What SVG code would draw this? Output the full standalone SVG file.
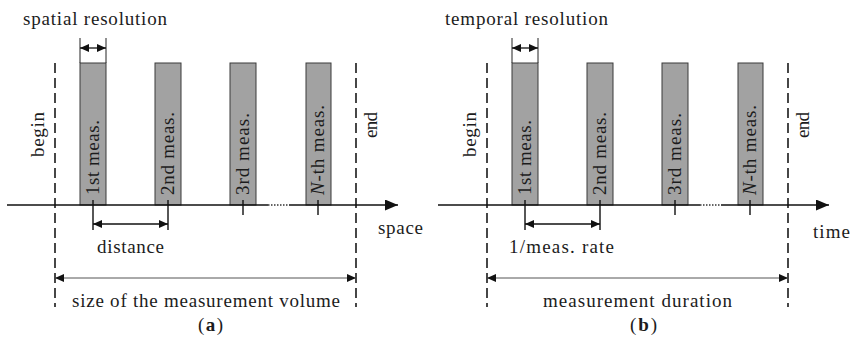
<svg xmlns="http://www.w3.org/2000/svg" width="851" height="343" viewBox="0 0 851 343">
<style>
text{font-family:"Liberation Serif","Times New Roman",serif;font-size:19px;fill:#1c1c1c}
.bar{fill:#a2a2a2;stroke:#3a3a3a;stroke-width:1}
.axis{stroke:#111;stroke-width:1.5;fill:none}
.dots{stroke:#333;stroke-width:1.3;stroke-dasharray:1.5 1.5;fill:none}
.dash{stroke:#1a1a1a;stroke-width:1.6;stroke-dasharray:10 5;fill:none}
.tick{stroke:#111;stroke-width:1.4;fill:none}
.ext{stroke:#222;stroke-width:1;fill:none}
.dim{stroke:#111;stroke-width:1.3;fill:none;marker-start:url(#ah);marker-end:url(#ah)}
.dimg{stroke:#555;stroke-width:1;fill:none;marker-start:url(#ah);marker-end:url(#ah)}
</style>
<defs>
<marker id="ah" markerUnits="userSpaceOnUse" markerWidth="10" markerHeight="10" refX="9" refY="4" orient="auto-start-reverse"><path d="M0,0 L9,4 L0,8 z" fill="#111"/></marker>
<marker id="ax" markerUnits="userSpaceOnUse" markerWidth="14" markerHeight="12" refX="13" refY="5.5" orient="auto"><path d="M0,0 L13,5.5 L0,11 z" fill="#111"/></marker>
</defs>

<!-- Panel (a) -->
<g id="panel-a">
  <text x="23" y="25" textLength="144" lengthAdjust="spacing">spatial resolution</text>
  <g id="a-bar1"><rect class="bar" x="80" y="63" width="26" height="142"/><text transform="translate(99,195) rotate(-90)" textLength="75" lengthAdjust="spacing">1st meas.</text></g>
  <g id="a-bar2"><rect class="bar" x="155" y="63" width="26" height="142"/><text transform="translate(174,195) rotate(-90)" textLength="83" lengthAdjust="spacing">2nd meas.</text></g>
  <g id="a-bar3"><rect class="bar" x="230" y="63" width="26" height="142"/><text transform="translate(249,195) rotate(-90)" textLength="82" lengthAdjust="spacing">3rd meas.</text></g>
  <g id="a-bar4"><rect class="bar" x="306" y="63" width="25" height="142"/><text transform="translate(324,195) rotate(-90)" textLength="90" lengthAdjust="spacing"><tspan font-style="italic">N</tspan>-th meas.</text></g>
  <g id="a-begin"><text transform="translate(44,157) rotate(-90)" textLength="45" lengthAdjust="spacing">begin</text></g>
  <g id="a-end"><text transform="translate(377,138) rotate(-90)" textLength="26" lengthAdjust="spacing">end</text></g>
  <g id="a-space"><text x="378" y="234" textLength="45" lengthAdjust="spacing">space</text></g>
  <g id="a-distance"><text x="97" y="253" textLength="67" lengthAdjust="spacing">distance</text></g>
  <g id="a-size"><text x="72" y="307" textLength="268" lengthAdjust="spacing">size of the measurement volume</text></g>
  <text x="198" y="331" textLength="25" lengthAdjust="spacing">(<tspan font-weight="bold">a</tspan>)</text>
  <g id="a-connectors">
    <line class="dash" x1="55" y1="63" x2="55" y2="307"/>
    <line class="dash" x1="356" y1="63" x2="356" y2="307"/>
    <path class="axis" d="M7,205 H268"/>
    <path class="dots" d="M268,205 H289"/>
    <path class="axis" d="M289,205 H398" marker-end="url(#ax)"/>
    <path class="tick" d="M93,200 V230 M168,200 V230 M243,200 V215 M318,200 V215"/>
    <path class="ext" d="M80,63 V38 M106,63 V38"/>
    <line class="dim" x1="80" y1="48" x2="106" y2="48"/>
    <line class="dim" x1="93" y1="224" x2="168" y2="224"/>
    <line class="dimg" x1="55" y1="278" x2="356" y2="278"/>
  </g>
</g>

<!-- Panel (b) -->
<g id="panel-b">
  <text x="445" y="25" textLength="163" lengthAdjust="spacing">temporal resolution</text>
  <g id="b-bar1"><rect class="bar" x="512" y="63" width="26" height="142"/><text transform="translate(531,195) rotate(-90)" textLength="75" lengthAdjust="spacing">1st meas.</text></g>
  <g id="b-bar2"><rect class="bar" x="587" y="63" width="26" height="142"/><text transform="translate(606,195) rotate(-90)" textLength="83" lengthAdjust="spacing">2nd meas.</text></g>
  <g id="b-bar3"><rect class="bar" x="662" y="63" width="26" height="142"/><text transform="translate(681,195) rotate(-90)" textLength="82" lengthAdjust="spacing">3rd meas.</text></g>
  <g id="b-bar4"><rect class="bar" x="738" y="63" width="25" height="142"/><text transform="translate(756,195) rotate(-90)" textLength="90" lengthAdjust="spacing"><tspan font-style="italic">N</tspan>-th meas.</text></g>
  <g id="b-begin"><text transform="translate(476,157) rotate(-90)" textLength="45" lengthAdjust="spacing">begin</text></g>
  <g id="b-end"><text transform="translate(809,138) rotate(-90)" textLength="26" lengthAdjust="spacing">end</text></g>
  <g id="b-time"><text x="813" y="238" textLength="37" lengthAdjust="spacing">time</text></g>
  <g id="b-rate"><text x="509" y="253" textLength="105" lengthAdjust="spacing">1/meas. rate</text></g>
  <g id="b-duration"><text x="543" y="307" textLength="189" lengthAdjust="spacing">measurement duration</text></g>
  <text x="630" y="331" textLength="27" lengthAdjust="spacing">(<tspan font-weight="bold">b</tspan>)</text>
  <g id="b-connectors">
    <line class="dash" x1="487" y1="63" x2="487" y2="307"/>
    <line class="dash" x1="788" y1="63" x2="788" y2="307"/>
    <path class="axis" d="M438,205 H700"/>
    <path class="dots" d="M700,205 H721"/>
    <path class="axis" d="M721,205 H829" marker-end="url(#ax)"/>
    <path class="tick" d="M525,200 V230 M600,200 V230 M675,200 V215 M750,200 V215"/>
    <path class="ext" d="M512,63 V38 M538,63 V38"/>
    <line class="dim" x1="512" y1="48" x2="538" y2="48"/>
    <line class="dim" x1="525" y1="224" x2="600" y2="224"/>
    <line class="dimg" x1="487" y1="278" x2="788" y2="278"/>
  </g>
</g>
</svg>
